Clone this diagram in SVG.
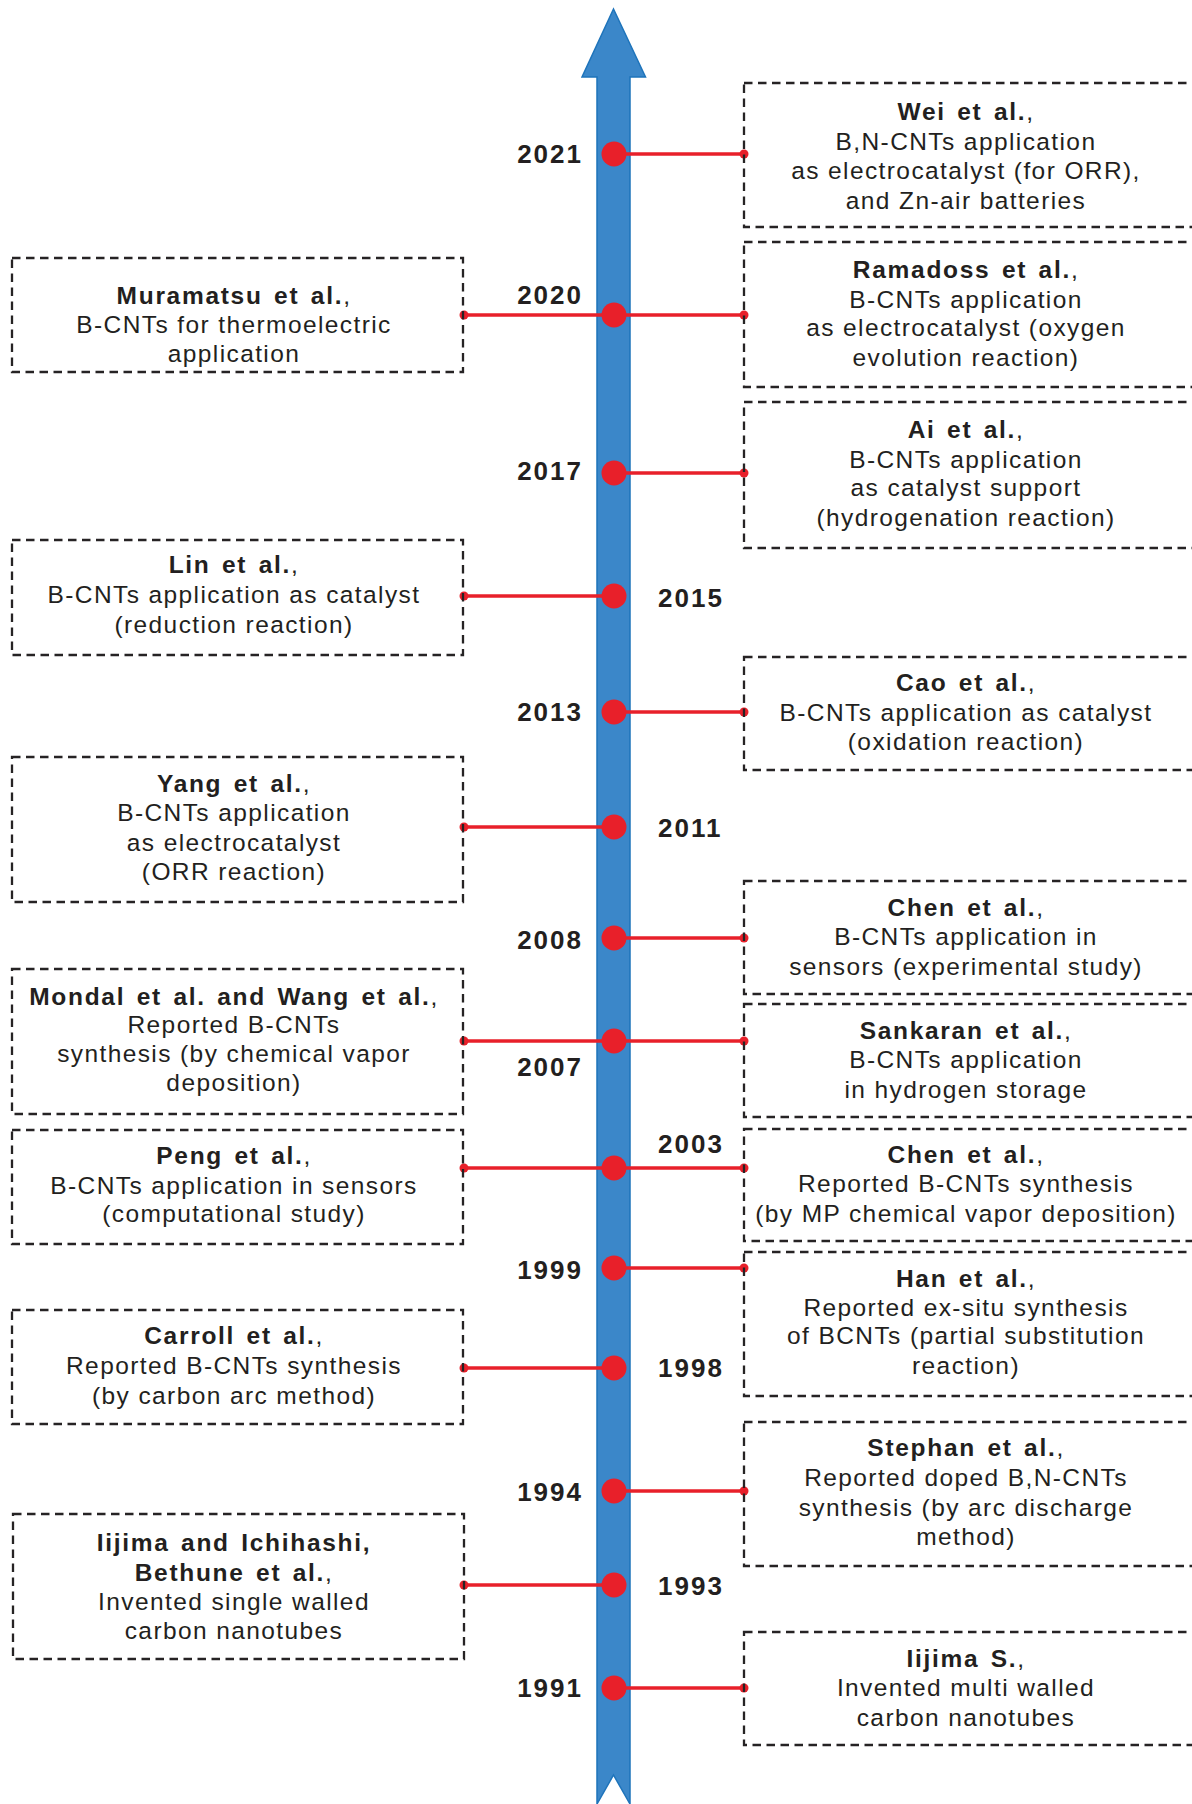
<svg xmlns="http://www.w3.org/2000/svg" width="1192" height="1804" viewBox="0 0 1192 1804">
<style>
.box{fill:none;stroke:#262324;stroke-width:2.3;stroke-dasharray:8.5 5.5}
.t{font-family:"Liberation Sans",Arial,sans-serif;font-size:24.5px;fill:#231f20;letter-spacing:1.4px;text-anchor:middle}
.b{font-weight:bold;letter-spacing:1.7px;word-spacing:3px}
.yr{font-family:"Liberation Sans",Arial,sans-serif;font-size:26px;font-weight:bold;fill:#231f20;letter-spacing:2px}
.yl{text-anchor:end}
.ln{stroke:#e8202a;stroke-width:3.5;fill:none}
.sd{fill:#e8202a}
.bd{fill:#e8202a}
</style>
<rect width="1192" height="1804" fill="#ffffff"/>
<g id="timeline-arrow">
<polygon points="613.5,9 645.5,77 630,77 630,1804 613.5,1775 597,1804 597,77 582,77" fill="#3b87c9" stroke="#1e74bb" stroke-width="1.5"/>
</g>
<g id="connectors">
<line class="ln" x1="614" y1="154" x2="744" y2="154"/><circle class="sd" cx="744" cy="154" r="4.5"/>
<line class="ln" x1="464" y1="315" x2="744" y2="315"/><circle class="sd" cx="464" cy="315" r="4.5"/><circle class="sd" cx="744" cy="315" r="4.5"/>
<line class="ln" x1="614" y1="473" x2="744" y2="473"/><circle class="sd" cx="744" cy="473" r="4.5"/>
<line class="ln" x1="464" y1="596" x2="614" y2="596"/><circle class="sd" cx="464" cy="596" r="4.5"/>
<line class="ln" x1="614" y1="712" x2="744" y2="712"/><circle class="sd" cx="744" cy="712" r="4.5"/>
<line class="ln" x1="464" y1="827" x2="614" y2="827"/><circle class="sd" cx="464" cy="827" r="4.5"/>
<line class="ln" x1="614" y1="938" x2="744" y2="938"/><circle class="sd" cx="744" cy="938" r="4.5"/>
<line class="ln" x1="464" y1="1041" x2="744" y2="1041"/><circle class="sd" cx="464" cy="1041" r="4.5"/><circle class="sd" cx="744" cy="1041" r="4.5"/>
<line class="ln" x1="464" y1="1168" x2="744" y2="1168"/><circle class="sd" cx="464" cy="1168" r="4.5"/><circle class="sd" cx="744" cy="1168" r="4.5"/>
<line class="ln" x1="614" y1="1268" x2="744" y2="1268"/><circle class="sd" cx="744" cy="1268" r="4.5"/>
<line class="ln" x1="464" y1="1368" x2="614" y2="1368"/><circle class="sd" cx="464" cy="1368" r="4.5"/>
<line class="ln" x1="614" y1="1491" x2="744" y2="1491"/><circle class="sd" cx="744" cy="1491" r="4.5"/>
<line class="ln" x1="464" y1="1585" x2="614" y2="1585"/><circle class="sd" cx="464" cy="1585" r="4.5"/>
<line class="ln" x1="614" y1="1688" x2="744" y2="1688"/><circle class="sd" cx="744" cy="1688" r="4.5"/>
</g>
<g id="year-dots">
<circle class="bd" cx="614" cy="154" r="12.5"/>
<circle class="bd" cx="614" cy="315" r="12.5"/>
<circle class="bd" cx="614" cy="473" r="12.5"/>
<circle class="bd" cx="614" cy="596" r="12.5"/>
<circle class="bd" cx="614" cy="712" r="12.5"/>
<circle class="bd" cx="614" cy="827" r="12.5"/>
<circle class="bd" cx="614" cy="938" r="12.5"/>
<circle class="bd" cx="614" cy="1041" r="12.5"/>
<circle class="bd" cx="614" cy="1168" r="12.5"/>
<circle class="bd" cx="614" cy="1268" r="12.5"/>
<circle class="bd" cx="614" cy="1368" r="12.5"/>
<circle class="bd" cx="614" cy="1491" r="12.5"/>
<circle class="bd" cx="614" cy="1585" r="12.5"/>
<circle class="bd" cx="614" cy="1688" r="12.5"/>
</g>
<g id="year-labels">
<text class="yr yl" x="583" y="163">2021</text>
<text class="yr yl" x="583" y="304">2020</text>
<text class="yr yl" x="583" y="480">2017</text>
<text class="yr" x="658" y="607">2015</text>
<text class="yr yl" x="583" y="721">2013</text>
<text class="yr" x="658" y="837">2011</text>
<text class="yr yl" x="583" y="949">2008</text>
<text class="yr yl" x="583" y="1076">2007</text>
<text class="yr" x="658" y="1153">2003</text>
<text class="yr yl" x="583" y="1279">1999</text>
<text class="yr" x="658" y="1377">1998</text>
<text class="yr yl" x="583" y="1501">1994</text>
<text class="yr" x="658" y="1595">1993</text>
<text class="yr yl" x="583" y="1697">1991</text>
</g>
<g id="wei">
<rect class="box" x="744" y="83" width="470" height="144"/>
<text class="t" x="966" y="120"><tspan class="b">Wei et al.</tspan>,</text>
<text class="t" x="966" y="150">B,N-CNTs application</text>
<text class="t" x="966" y="179">as electrocatalyst (for ORR),</text>
<text class="t" x="966" y="209">and Zn-air batteries</text>
</g>
<g id="ramadoss">
<rect class="box" x="744" y="242" width="470" height="145"/>
<text class="t" x="966" y="278"><tspan class="b">Ramadoss et al.</tspan>,</text>
<text class="t" x="966" y="308">B-CNTs application</text>
<text class="t" x="966" y="336">as electrocatalyst (oxygen</text>
<text class="t" x="966" y="366">evolution reaction)</text>
</g>
<g id="ai">
<rect class="box" x="744" y="402" width="470" height="146"/>
<text class="t" x="966" y="438"><tspan class="b">Ai et al.</tspan>,</text>
<text class="t" x="966" y="468">B-CNTs application</text>
<text class="t" x="966" y="496">as catalyst support</text>
<text class="t" x="966" y="526">(hydrogenation reaction)</text>
</g>
<g id="cao">
<rect class="box" x="744" y="657" width="470" height="113"/>
<text class="t" x="966" y="691"><tspan class="b">Cao et al.</tspan>,</text>
<text class="t" x="966" y="721">B-CNTs application as catalyst</text>
<text class="t" x="966" y="750">(oxidation reaction)</text>
</g>
<g id="chen2008">
<rect class="box" x="744" y="881" width="470" height="113"/>
<text class="t" x="966" y="916"><tspan class="b">Chen et al.</tspan>,</text>
<text class="t" x="966" y="945">B-CNTs application in</text>
<text class="t" x="966" y="975">sensors (experimental study)</text>
</g>
<g id="sankaran">
<rect class="box" x="744" y="1004" width="470" height="113"/>
<text class="t" x="966" y="1039"><tspan class="b">Sankaran et al.</tspan>,</text>
<text class="t" x="966" y="1068">B-CNTs application</text>
<text class="t" x="966" y="1098">in hydrogen storage</text>
</g>
<g id="chen2003">
<rect class="box" x="744" y="1129" width="470" height="112"/>
<text class="t" x="966" y="1163"><tspan class="b">Chen et al.</tspan>,</text>
<text class="t" x="966" y="1192">Reported B-CNTs synthesis</text>
<text class="t" x="966" y="1222">(by MP chemical vapor deposition)</text>
</g>
<g id="han">
<rect class="box" x="744" y="1252" width="470" height="144"/>
<text class="t" x="966" y="1287"><tspan class="b">Han et al.</tspan>,</text>
<text class="t" x="966" y="1316">Reported ex-situ synthesis</text>
<text class="t" x="966" y="1344">of BCNTs (partial substitution</text>
<text class="t" x="966" y="1374">reaction)</text>
</g>
<g id="stephan">
<rect class="box" x="744" y="1422" width="470" height="144"/>
<text class="t" x="966" y="1456"><tspan class="b">Stephan et al.</tspan>,</text>
<text class="t" x="966" y="1486">Reported doped B,N-CNTs</text>
<text class="t" x="966" y="1516">synthesis (by arc discharge</text>
<text class="t" x="966" y="1545">method)</text>
</g>
<g id="iijima-s">
<rect class="box" x="744" y="1632" width="470" height="113"/>
<text class="t" x="966" y="1667"><tspan class="b">Iijima S.</tspan>,</text>
<text class="t" x="966" y="1696">Invented multi walled</text>
<text class="t" x="966" y="1726">carbon nanotubes</text>
</g>
<g id="muramatsu">
<rect class="box" x="12" y="258" width="451" height="114"/>
<text class="t" x="234" y="304"><tspan class="b">Muramatsu et al.</tspan>,</text>
<text class="t" x="234" y="333">B-CNTs for thermoelectric</text>
<text class="t" x="234" y="362">application</text>
</g>
<g id="lin">
<rect class="box" x="12" y="540" width="451" height="115"/>
<text class="t" x="234" y="573"><tspan class="b">Lin et al.</tspan>,</text>
<text class="t" x="234" y="603">B-CNTs application as catalyst</text>
<text class="t" x="234" y="633">(reduction reaction)</text>
</g>
<g id="yang">
<rect class="box" x="12" y="757" width="451" height="145"/>
<text class="t" x="234" y="792"><tspan class="b">Yang et al.</tspan>,</text>
<text class="t" x="234" y="821">B-CNTs application</text>
<text class="t" x="234" y="851">as electrocatalyst</text>
<text class="t" x="234" y="880">(ORR reaction)</text>
</g>
<g id="mondal-wang">
<rect class="box" x="12" y="969" width="451" height="145"/>
<text class="t" x="234" y="1005"><tspan class="b">Mondal et al. and Wang et al.</tspan>,</text>
<text class="t" x="234" y="1033">Reported B-CNTs</text>
<text class="t" x="234" y="1062">synthesis (by chemical vapor</text>
<text class="t" x="234" y="1091">deposition)</text>
</g>
<g id="peng">
<rect class="box" x="12" y="1130" width="451" height="114"/>
<text class="t" x="234" y="1164"><tspan class="b">Peng et al.</tspan>,</text>
<text class="t" x="234" y="1194">B-CNTs application in sensors</text>
<text class="t" x="234" y="1222">(computational study)</text>
</g>
<g id="carroll">
<rect class="box" x="12" y="1310" width="451" height="114"/>
<text class="t" x="234" y="1344"><tspan class="b">Carroll et al.</tspan>,</text>
<text class="t" x="234" y="1374">Reported B-CNTs synthesis</text>
<text class="t" x="234" y="1404">(by carbon arc method)</text>
</g>
<g id="iijima-ichihashi-bethune">
<rect class="box" x="13" y="1514" width="451" height="145"/>
<text class="t b" x="234" y="1551">Iijima and Ichihashi,</text>
<text class="t" x="234" y="1581"><tspan class="b">Bethune et al.</tspan>,</text>
<text class="t" x="234" y="1610">Invented single walled</text>
<text class="t" x="234" y="1639">carbon nanotubes</text>
</g>
</svg>
